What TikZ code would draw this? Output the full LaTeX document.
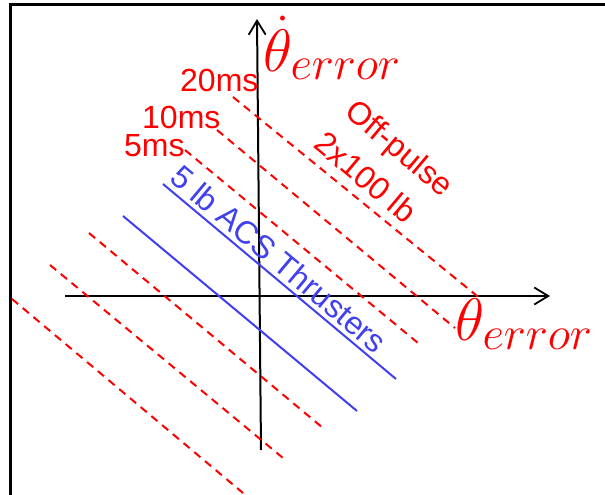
\RequirePackage{fix-cm}
\documentclass[tikz,border=0pt]{standalone}
\usepackage{fontspec}
\setmainfont{Liberation Sans}
\usetikzlibrary{arrows.meta}
\definecolor{pulsered}{RGB}{255,0,0}
\definecolor{acsblue}{RGB}{64,64,240}
\begin{document}
\begin{tikzpicture}[x=1pt,y=-1pt,
  frameline/.style={line width=3pt, black},
  axisline/.style={line width=2pt, black, -{Straight Barb[length=14pt,width=17pt,line width=1.8pt]}},
  pulseline/.style={pulsered, line width=2pt, dash pattern=on 8pt off 6pt},
  acsline/.style={acsblue, line width=2pt},
  lbl/.style={inner sep=0pt, font=\fontsize{32}{35}\selectfont},
  redlbl/.style={lbl, text=pulsered},
  bluelbl/.style={lbl, text=acsblue},
  mathlbl/.style={inner sep=0pt, text=pulsered, font=\fontsize{60}{64}\selectfont, anchor=base west}]
\useasboundingbox (0,0) rectangle (605,495);
% frame
\draw[frameline] (10.5,496) -- (10.5,4.5) -- (606,4.5);
% axes
\coordinate (xs) at (65,296);
\coordinate (xe) at (550,296);
\coordinate (ys) at (261,450);
\coordinate (ye) at (257,19);
\draw[axisline] (xs) -- (xe);
\draw[axisline] (ys) -- (ye);
% pulse lines
\draw[pulseline] (233,97) -- (482,300);
\draw[pulseline] (217,130) -- (455,328);
\draw[pulseline] (185,150) -- (418,343);
\draw[acsline] (163,184) -- (396,379);
\draw[acsline] (123,216) -- (357,411);
\draw[pulseline] (89,233) -- (323,428);
\draw[pulseline] (50,265) -- (283,458);
\draw[pulseline] (12,299) -- (243,493);
% labels
\node[mathlbl] (ydot) at (263,71) {$\dot{\theta}_{\mbox{\fontsize{47}{50}\selectfont$error$}}$};
\node[mathlbl] (xlab) at (455,340) {$\theta_{\mbox{\fontsize{47}{50}\selectfont$error$}}$};
\node[redlbl, anchor=base west] (l20) at (180,92) {20ms};
\node[redlbl, anchor=base west] (l10) at (142,128) {10ms};
\node[redlbl, anchor=base west] (l5) at (124,156) {5ms};
\node[redlbl, rotate=-40] (off) at (398,150) {Off-pulse};
\node[redlbl, rotate=-40] (two) at (366,177) {2x100 lb};
\node[bluelbl, rotate=-40] (acs) at (279,259) {5 lb ACS Thrusters};
\end{tikzpicture}
\end{document}
